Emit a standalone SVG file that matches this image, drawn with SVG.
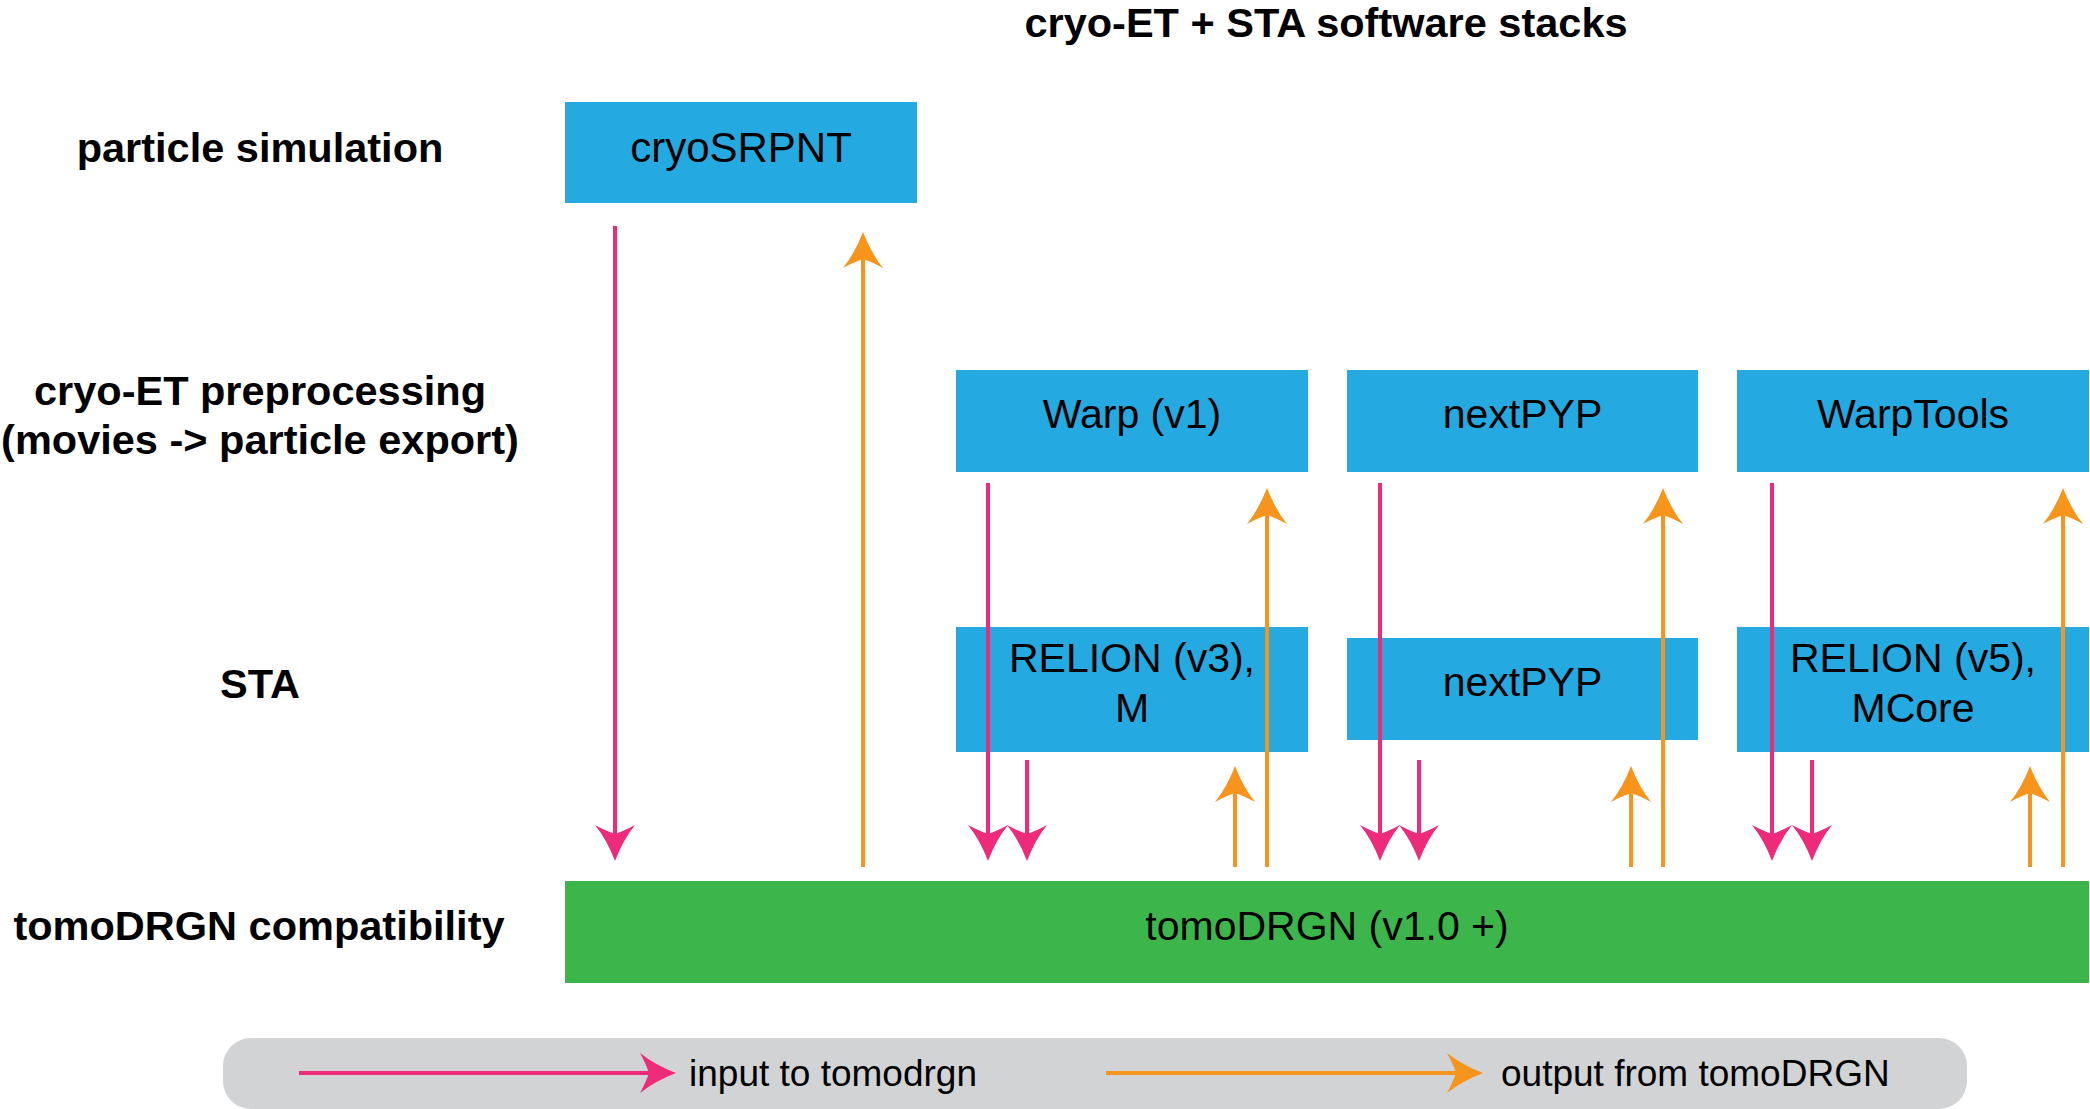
<svg xmlns="http://www.w3.org/2000/svg" width="2090" height="1109" viewBox="0 0 2090 1109">
<style>
  .box { fill: #24A9E1; }
  .green { fill: #3CB54A; }
  .legend { fill: #D1D3D4; }
  .t { font-family: "Liberation Sans", Arial, Helvetica, sans-serif; fill: #000; text-anchor: middle; }
  .node { font-size: 41px; }
  .lab { font-size: 41.5px; font-weight: bold; }
  .leg { font-size: 37px; text-anchor: start; }
  .in { stroke: #EE2A7B; stroke-width: 4; fill: none; marker-end: url(#hin); }
  .out { stroke: #F7941D; stroke-width: 4; fill: none; marker-end: url(#hout); }
</style>
<defs>
  <marker id="hin" markerUnits="userSpaceOnUse" viewBox="-38 -22 40 44" markerWidth="40" markerHeight="44" refX="-27" refY="0" orient="auto" overflow="visible">
    <path d="M0,0 Q-21,-8 -36,-20 Q-30,-9 -27,0 Q-30,9 -36,20 Q-21,8 0,0 Z" fill="#EE2A7B"/>
  </marker>
  <marker id="hout" markerUnits="userSpaceOnUse" viewBox="-38 -22 40 44" markerWidth="40" markerHeight="44" refX="-27" refY="0" orient="auto" overflow="visible">
    <path d="M0,0 Q-21,-8 -36,-20 Q-30,-9 -27,0 Q-30,9 -36,20 Q-21,8 0,0 Z" fill="#F7941D"/>
  </marker>
</defs>
<rect width="2090" height="1109" fill="#fff"/>

<text class="t lab" x="1326" y="37">cryo-ET + STA software stacks</text>

<g id="row-labels">
  <text class="t lab" x="260" y="162">particle simulation</text>
  <text class="t lab" x="260" y="405">cryo-ET preprocessing</text>
  <text class="t lab" x="260" y="454">(movies -&gt; particle export)</text>
  <text class="t lab" x="260" y="698">STA</text>
  <text class="t lab" x="259" y="940">tomoDRGN compatibility</text>
</g>

<g id="cryoSRPNT">
  <rect class="box" x="565" y="102" width="352" height="101"/>
  <text class="t node" x="741" y="162" style="font-size:42px">cryoSRPNT</text>
</g>
<g id="warp-v1">
  <rect class="box" x="956" y="370" width="352" height="102"/>
  <text class="t node" x="1132" y="428">Warp (v1)</text>
</g>
<g id="nextpyp-pre">
  <rect class="box" x="1347" y="370" width="351" height="102"/>
  <text class="t node" x="1522.5" y="428">nextPYP</text>
</g>
<g id="warptools">
  <rect class="box" x="1737" y="370" width="352" height="102"/>
  <text class="t node" x="1913" y="428">WarpTools</text>
</g>
<g id="relion-v3">
  <rect class="box" x="956" y="627" width="352" height="125"/>
  <text class="t node" x="1132" y="672">RELION (v3),</text>
  <text class="t node" x="1132" y="722">M</text>
</g>
<g id="nextpyp-sta">
  <rect class="box" x="1347" y="638" width="351" height="102"/>
  <text class="t node" x="1522.5" y="696">nextPYP</text>
</g>
<g id="relion-v5">
  <rect class="box" x="1737" y="627" width="352" height="125"/>
  <text class="t node" x="1913" y="672">RELION (v5),</text>
  <text class="t node" x="1913" y="722">MCore</text>
</g>
<g id="tomodrgn">
  <rect class="green" x="565" y="881" width="1524" height="102"/>
  <text class="t node" x="1327" y="940">tomoDRGN (v1.0 +)</text>
</g>

<g id="connectors">
  <line class="in" x1="615" y1="226" x2="615" y2="834"/>
  <line class="in" x1="988" y1="483" x2="988" y2="834"/>
  <line class="in" x1="1027" y1="760" x2="1027" y2="834"/>
  <line class="in" x1="1380" y1="483" x2="1380" y2="834"/>
  <line class="in" x1="1419" y1="760" x2="1419" y2="834"/>
  <line class="in" x1="1772" y1="483" x2="1772" y2="834"/>
  <line class="in" x1="1812" y1="760" x2="1812" y2="834"/>

  <line class="out" x1="863" y1="867" x2="863" y2="259"/>
  <line class="out" x1="1267" y1="867" x2="1267" y2="515"/>
  <line class="out" x1="1235" y1="867" x2="1235" y2="793"/>
  <line class="out" x1="1663" y1="867" x2="1663" y2="515"/>
  <line class="out" x1="1631" y1="867" x2="1631" y2="793"/>
  <line class="out" x1="2063" y1="867" x2="2063" y2="515"/>
  <line class="out" x1="2030" y1="867" x2="2030" y2="793"/>
</g>

<g id="legend">
  <rect class="legend" x="223" y="1038" width="1744" height="71" rx="28" ry="28"/>
  <line class="in" x1="299" y1="1073" x2="649" y2="1073"/>
  <text class="t leg" x="689" y="1086">input to tomodrgn</text>
  <line class="out" x1="1106" y1="1073" x2="1456" y2="1073"/>
  <text class="t leg" x="1501" y="1086">output from tomoDRGN</text>
</g>
</svg>
